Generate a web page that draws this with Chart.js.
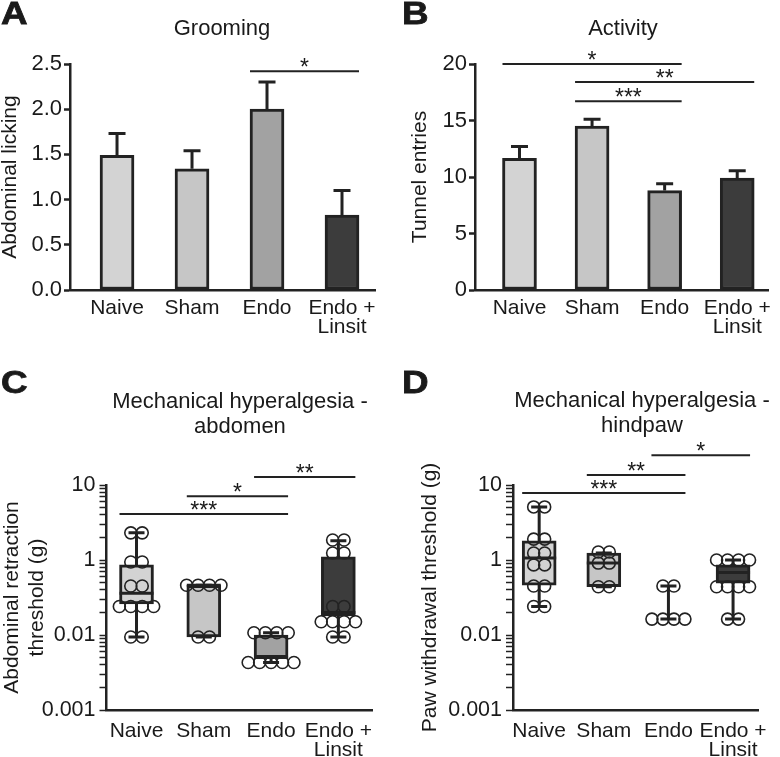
<!DOCTYPE html>
<html>
<head>
<meta charset="utf-8">
<script src="https://cdn.jsdelivr.net/npm/chart.js@4.4.1/dist/chart.umd.min.js"></script>
<style>
  body { margin: 0; background: #fff; }
  #fig { position: relative; width: 780px; height: 757px; overflow: hidden;
         font-family: "Liberation Sans", Arial, sans-serif; color: #1a1a1a; }
  canvas { position: absolute; }
  .letter { position: absolute; font-weight: bold; font-size: 32px; line-height: 32px;
            transform-origin: left top; transform: scaleX(1.15); -webkit-text-stroke: 0.8px #1a1a1a; }
  .title { position: absolute; font-size: 22px; line-height: 25px; text-align: center;
           transform: translateX(-50%); white-space: nowrap; }
</style>
</head>
<body>
<div id="fig">
  <canvas id="chartA" width="390" height="350" style="left:0;top:0"></canvas>
  <canvas id="chartB" width="390" height="350" style="left:390px;top:0"></canvas>
  <canvas id="chartC" width="390" height="387" style="left:0;top:370px"></canvas>
  <canvas id="chartD" width="390" height="387" style="left:390px;top:370px"></canvas>

  <div class="letter" style="left:1px;top:-3px">A</div>
  <div class="letter" style="left:402px;top:-3px">B</div>
  <div class="letter" style="left:1px;top:366px">C</div>
  <div class="letter" style="left:402px;top:366px">D</div>

  <div class="title" style="left:222px;top:15px">Grooming</div>
  <div class="title" style="left:623px;top:15px">Activity</div>
  <div class="title" style="left:240px;top:388px">Mechanical hyperalgesia -<br>abdomen</div>
  <div class="title" style="left:642px;top:387px">Mechanical hyperalgesia -<br>hindpaw</div>
</div>
<script>
// groups shared by all four panels
const groups = [['Naive'], ['Sham'], ['Endo'], ['Endo +', 'Linsit']];
const groupFill = ['#d3d3d3', '#c6c6c6', '#a2a2a2', '#3c3c3c'];

// A - grooming (mean + SEM)
const groomingMean = [1.49, 1.34, 2.0, 0.83];
const groomingSem = [0.24, 0.2, 0.3, 0.27];
const groomingTicks = [0, 0.5, 1, 1.5, 2, 2.5];
const groomingSig = [[2, 3, 2.42, '*']];

// B - activity (mean + SEM)
const activityMean = [11.65, 14.5, 8.8, 9.9];
const activitySem = [1.05, 0.6, 0.6, 0.65];
const activityTicks = [0, 5, 10, 15, 20];
const activitySig = [[0, 2, 20, '*'], [1, 3, 18.4, '**'], [1, 2, 16.7, '***']];

// C - abdomen thresholds (g), individual animals
const abdNaive = [2.3, 2.3, 0.94, 0.94, 0.45, 0.45, 0.24, 0.24, 0.24, 0.24, 0.094, 0.094];
const abdSham = [0.46, 0.46, 0.46, 0.46, 0.094, 0.094];
const abdEndo = [0.107, 0.107, 0.107, 0.107, 0.043, 0.043, 0.043, 0.043, 0.043];
const abdLinsit = [1.85, 1.85, 1.24, 1.24, 0.24, 0.24, 0.15, 0.15, 0.15, 0.15, 0.094, 0.094];
const abdMin = [0.094, 0.094, 0.043, 0.094];
const abdQ1 = [0.26, 0.094, 0.05, 0.18];
const abdMed = [0.36, 0.46, 0.05, 0.2];
const abdQ3 = [0.86, 0.46, 0.1, 1.1];
const abdMax = [2.3, 0.46, 0.107, 1.8];
const abdSig = [[0, 2, 4.1, '***'], [1, 2, 7.1, '*'], [2, 3, 12.8, '**']];

// D - hindpaw thresholds (g)
const pawNaive = [5.1, 5.1, 1.9, 1.9, 1.24, 1.24, 0.86, 0.86, 0.45, 0.45, 0.24, 0.24];
const pawSham = [1.28, 1.28, 0.91, 0.91, 0.44, 0.44];
const pawEndo = [0.45, 0.45, 0.163, 0.163, 0.163, 0.163];
const pawLinsit = [1.0, 1.0, 1.0, 1.0, 0.44, 0.44, 0.44, 0.44, 0.163, 0.163];
const pawMin = [0.24, 0.44, 0.163, 0.163];
const pawQ1 = [0.46, 0.44, 0.163, 0.49];
const pawMed = [1.06, 0.91, 0.163, 0.68];
const pawQ3 = [1.8, 1.24, 0.163, 0.86];
const pawMax = [5.1, 1.24, 0.45, 1.0];
const pawSig = [[0, 2, 7.8, '***'], [1, 2, 13.6, '**'], [2, 3, 25, '*']];

// log axis: labels exactly as printed on the figure
const logTickValues = [0.01, 0.1, 1, 10];
const logTickLabels = ['0.001', '0.01', '1', '10'];

const INK = '#222';
const FONT = '"Liberation Sans", Arial, sans-serif';
Chart.defaults.font.family = FONT;
Chart.defaults.color = '#1a1a1a';

const HALF = 17;

const sigPlugin = {
    id: 'sig',
    afterDraw(chart, args, opts) {
        const { ctx, scales: { x, y } } = chart;
        ctx.save();
        ctx.strokeStyle = INK;
        ctx.fillStyle = '#1a1a1a';
        ctx.lineWidth = 2;
        ctx.font = '23px ' + FONT;
        ctx.textAlign = 'center';
        ctx.textBaseline = 'alphabetic';
        opts.rows.forEach(([a, b, v, label]) => {
            const x0 = x.getPixelForValue(a) - HALF;
            const x1 = x.getPixelForValue(b) + HALF;
            const py = y.getPixelForValue(v);
            ctx.beginPath();
            ctx.moveTo(x0, py);
            ctx.lineTo(x1, py);
            ctx.stroke();
            ctx.fillText(label, (x0 + x1) / 2, py + 4);
        });
        ctx.restore();
    }
};

const errPlugin = {
    id: 'err',
    afterDatasetsDraw(chart, args, opts) {
        const { ctx, scales: { x, y } } = chart;
        ctx.save();
        ctx.strokeStyle = INK;
        ctx.lineWidth = 3;
        opts.mean.forEach((m, i) => {
            const px = x.getPixelForValue(i);
            const y0 = y.getPixelForValue(m);
            const y1 = y.getPixelForValue(m + opts.sem[i]);
            ctx.beginPath();
            ctx.moveTo(px, y0);
            ctx.lineTo(px, y1);
            ctx.moveTo(px - 8.5, y1);
            ctx.lineTo(px + 8.5, y1);
            ctx.stroke();
        });
        ctx.restore();
    }
};

const boxPlugin = {
    id: 'box',
    beforeDatasetsDraw(chart, args, o) {
        const { ctx, scales: { x, y } } = chart;
        ctx.save();
        ctx.strokeStyle = INK;
        ctx.lineWidth = 3;
        o.min.forEach((lo, i) => {
            if (o.max[i] <= lo) return;
            const px = x.getPixelForValue(i);
            const yLo = y.getPixelForValue(lo);
            const yHi = y.getPixelForValue(o.max[i]);
            ctx.beginPath();
            ctx.moveTo(px, yLo);
            ctx.lineTo(px, yHi);
            ctx.moveTo(px - 8, yLo);
            ctx.lineTo(px + 8, yLo);
            ctx.moveTo(px - 8, yHi);
            ctx.lineTo(px + 8, yHi);
            ctx.stroke();
        });
        ctx.restore();
    },
    afterDatasetDraw(chart, args, o) {
        if (args.index !== 0) return;
        const { ctx, scales: { x, y } } = chart;
        ctx.save();
        ctx.strokeStyle = INK;
        ctx.lineWidth = 3;
        o.med.forEach((m, i) => {
            if (o.q1[i] === o.q3[i]) return;
            const px = x.getPixelForValue(i);
            const py = y.getPixelForValue(m);
            ctx.beginPath();
            ctx.moveTo(px - HALF, py);
            ctx.lineTo(px + HALF, py);
            ctx.stroke();
        });
        ctx.restore();
    }
};

function categoryAxis(min, max, pad) {
    return {
        type: 'linear', min, max, offset: false,
        afterBuildTicks: s => { s.ticks = groups.map((g, i) => ({ value: i })); },
        afterFit: s => { s.height = 60; },
        ticks: {
            autoSkip: false, maxRotation: 0, padding: pad,
            font: { size: 21, lineHeight: 0.9 },
            callback: v => groups[v]
        },
        grid: { display: false, drawTicks: false },
        border: { color: INK, width: 2.5 }
    };
}

// spread animals with the same value side by side
function spread(values, g) {
    const rows = {};
    values.forEach(v => { (rows[v] = rows[v] || []).push(v); });
    const out = [];
    Object.values(rows).forEach(r => {
        r.forEach((v, k) => out.push({ x: g + (k - (r.length - 1) / 2) * 0.17, y: v }));
    });
    return out;
}

function barChart(id, mean, sem, ticks, sig, yTitle, yMax, pad, yWidth, xMin, xMax, rightPad, fmt) {
    return new Chart(document.getElementById(id), {
        type: 'bar',
        data: {
            datasets: [{
                data: mean.map((v, i) => ({ x: i, y: v })),
                backgroundColor: groupFill,
                borderColor: INK,
                borderWidth: 3,
                borderSkipped: false,
                barThickness: 34
            }]
        },
        options: {
            responsive: false,
            animation: false,
            layout: { padding: { left: pad, right: rightPad, top: 64, bottom: 0 } },
            plugins: {
                legend: { display: false },
                tooltip: { enabled: false },
                err: { mean, sem },
                sig: { rows: sig }
            },
            scales: {
                x: categoryAxis(xMin, xMax, 9),
                y: {
                    min: 0, max: yMax,
                    afterBuildTicks: s => { s.ticks = ticks.map(v => ({ value: v })); },
                    afterFit: s => { s.width = yWidth; },
                    ticks: { padding: 2, font: { size: 22 }, callback: fmt },
                    grid: { drawOnChartArea: false, tickLength: 6, tickColor: INK, tickWidth: 2.5 },
                    border: { color: INK, width: 2.5 },
                    title: { display: true, text: yTitle, padding: 0, font: { size: 21, lineHeight: 1 } }
                }
            }
        },
        plugins: [errPlugin, sigPlugin]
    });
}

function boxChart(id, pts, stats, sig, yTitle, pad, yWidth, xMin, xMax, rightPad) {
    const logTicks = [];
    [0.01, 0.1, 1].forEach(d => { for (let k = 1; k <= 9; k++) logTicks.push(+(k * d).toPrecision(3)); });
    logTicks.push(10);
    const isMajor = v => logTickValues.some(t => Math.abs(Math.log10(t) - Math.log10(v)) < 1e-6);
    return new Chart(document.getElementById(id), {
        type: 'bar',
        data: {
            datasets: [{
                data: stats.q1.map((v, i) => ({ x: i, y: v === stats.q3[i] ? null : [v, stats.q3[i]] })),
                backgroundColor: groupFill,
                borderColor: INK,
                borderWidth: 3,
                borderSkipped: false,
                barThickness: 34,
                order: 2
            }, {
                type: 'scatter',
                data: pts.flatMap((vals, g) => spread(vals, g)),
                pointRadius: 6,
                pointBorderWidth: 1.6,
                pointBackgroundColor: 'rgba(0,0,0,0)',
                pointBorderColor: INK,
                order: 1
            }]
        },
        options: {
            responsive: false,
            animation: false,
            layout: { padding: { left: pad, right: rightPad, top: 115, bottom: 0 } },
            plugins: {
                legend: { display: false },
                tooltip: { enabled: false },
                box: stats,
                sig: { rows: sig }
            },
            scales: {
                x: Object.assign(categoryAxis(xMin, xMax, 12), {
                    afterFit: s => { s.height = 47; }
                }),
                y: {
                    type: 'logarithmic', min: 0.01, max: 10,
                    afterBuildTicks: s => { s.ticks = logTicks.map(v => ({ value: v, major: isMajor(v) })); },
                    afterFit: s => { s.width = yWidth; },
                    ticks: {
                        autoSkip: false, padding: 4, font: { size: 21.5 },
                        callback: v => {
                            const i = logTickValues.findIndex(t => Math.abs(Math.log10(t) - Math.log10(v)) < 1e-6);
                            return i < 0 ? '' : logTickLabels[i];
                        }
                    },
                    grid: { drawOnChartArea: false, tickLength: 7, tickColor: INK, tickWidth: 1.5 },
                    border: { color: INK, width: 2.5 },
                    title: { display: true, text: yTitle, padding: 0, font: { size: 21, lineHeight: 1.19 } }
                }
            }
        },
        plugins: [boxPlugin, sigPlugin]
    });
}

barChart('chartA', groomingMean, groomingSem, groomingTicks, groomingSig, 'Abdominal licking',
    2.5, 0, 70, -0.627, 3.44, 15, v => v.toFixed(1));
barChart('chartB', activityMean, activitySem, activityTicks, activitySig, 'Tunnel entries',
    20, 19.5, 65.5, -0.613, 3.427, 2, v => String(v));

boxChart('chartC', [abdNaive, abdSham, abdEndo, abdLinsit],
    { min: abdMin, q1: abdQ1, med: abdMed, q3: abdQ3, max: abdMax }, abdSig,
    ['Abdominal retraction', 'threshold (g)'], 0, 106.5, -0.446, 3.5, 18);
boxChart('chartD', [pawNaive, pawSham, pawEndo, pawLinsit],
    { min: pawMin, q1: pawQ1, med: pawMed, q3: pawQ3, max: pawMax }, pawSig,
    'Paw withdrawal threshold (g)', 28, 95, -0.405, 3.4, 13);
</script>
</body>
</html>
